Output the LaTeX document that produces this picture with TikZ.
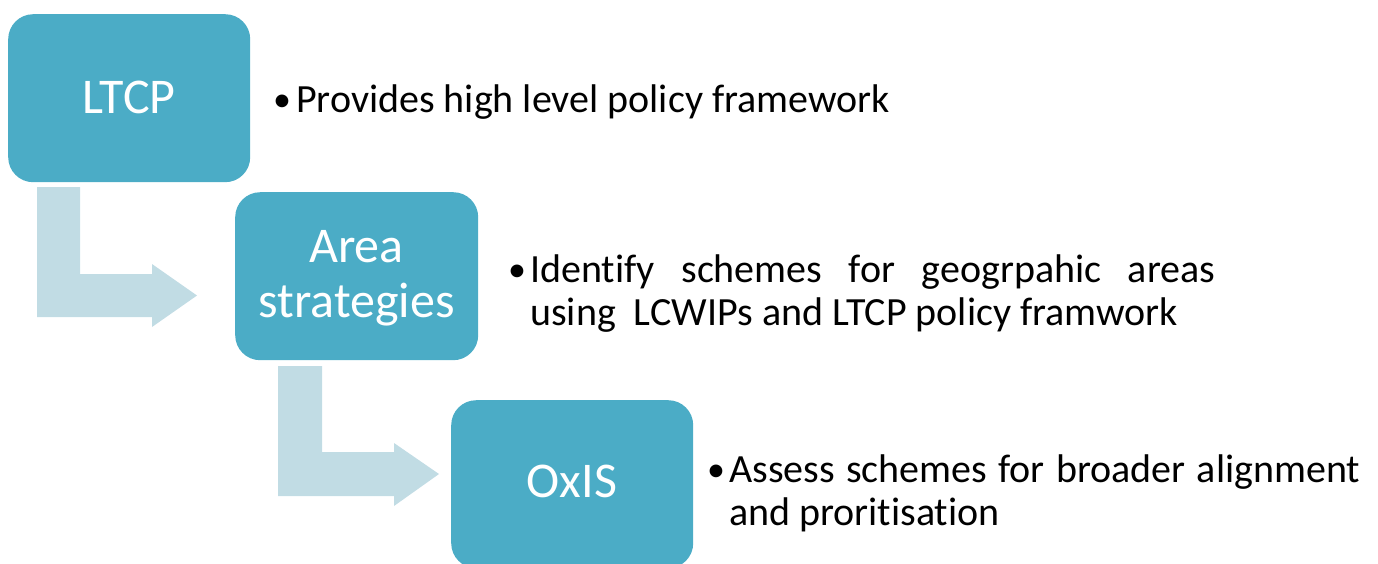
\documentclass[tikz,border=0pt]{standalone}
\usepackage{fontspec}
\setmainfont{Carlito}[Ligatures={NoCommon}]
\definecolor{boxblue}{HTML}{4BACC6}
\definecolor{arrowblue}{HTML}{C1DCE4}
\begin{document}
\begin{tikzpicture}[x=1pt,y=-1pt,
  stage/.style={draw=none,fill=boxblue,rounded corners=25pt,text=white,
    font=\fontsize{50}{55}\selectfont,align=center,inner sep=0pt,anchor=north west},
  stagetext/.style={text=white,font=\fontsize{50}{55}\selectfont,inner sep=0pt,anchor=base},
  bul/.style={font=\fontsize{36}{43}\selectfont,inner sep=0pt,anchor=base west},
  desc/.style={font=\fontsize{40}{43}\selectfont,inner sep=0pt,anchor=base west,align=left},
  elbowarrow/.style={fill=arrowblue,draw=none}]
\clip (0,0) rectangle (1378,563);
\useasboundingbox (0,0) rectangle (1378,563);
% arrows
\fill[elbowarrow] (37,187) -- (80,187) -- (80,274) -- (152,274) -- (152,264) -- (197,295.5)
  -- (152,327) -- (152,317) -- (37,317) -- cycle;
\fill[elbowarrow] (278,366) -- (322,366) -- (322,452) -- (394,452) -- (394,443) -- (439,474)
  -- (394,506) -- (394,496) -- (278,496) -- cycle;
% boxes
\node[stage,minimum width=242pt,minimum height=168pt] (ltcp) at (8,14) {};
\node[stagetext] (ltcpt) at (129,113) {LTCP};
\node[stage,minimum width=243pt,minimum height=168pt] (area) at (235,192) {};
\node[stagetext] (areat1) at (356.5,262) {Area};
\node[stagetext] (areat2) at (356.5,317) {strategies};
\node[stage,minimum width=242pt,minimum height=168pt] (oxis) at (451,400) {};
\node[stagetext] (oxist) at (572,497) {OxIS};
% bullets and texts
\node[bul] (b1) at (273,111) {•};
\node[desc] (t1) at (296,112) {Provides high level policy framework};
\node[bul] (b2) at (508,281) {•};
\node[desc] (t2a) at (530,282) {\makebox[685pt][s]{Identify schemes for geogrpahic areas}};
\node[desc] (t2b) at (530,325) {using\ \ LCWIPs and LTCP policy framwork};
\node[bul] (b3) at (707,481) {•};
\node[desc] (t3a) at (729,482) {\makebox[631pt][s]{Assess schemes for broader alignment}};
\node[desc] (t3b) at (729,525) {and proritisation};
\end{tikzpicture}
\end{document}
